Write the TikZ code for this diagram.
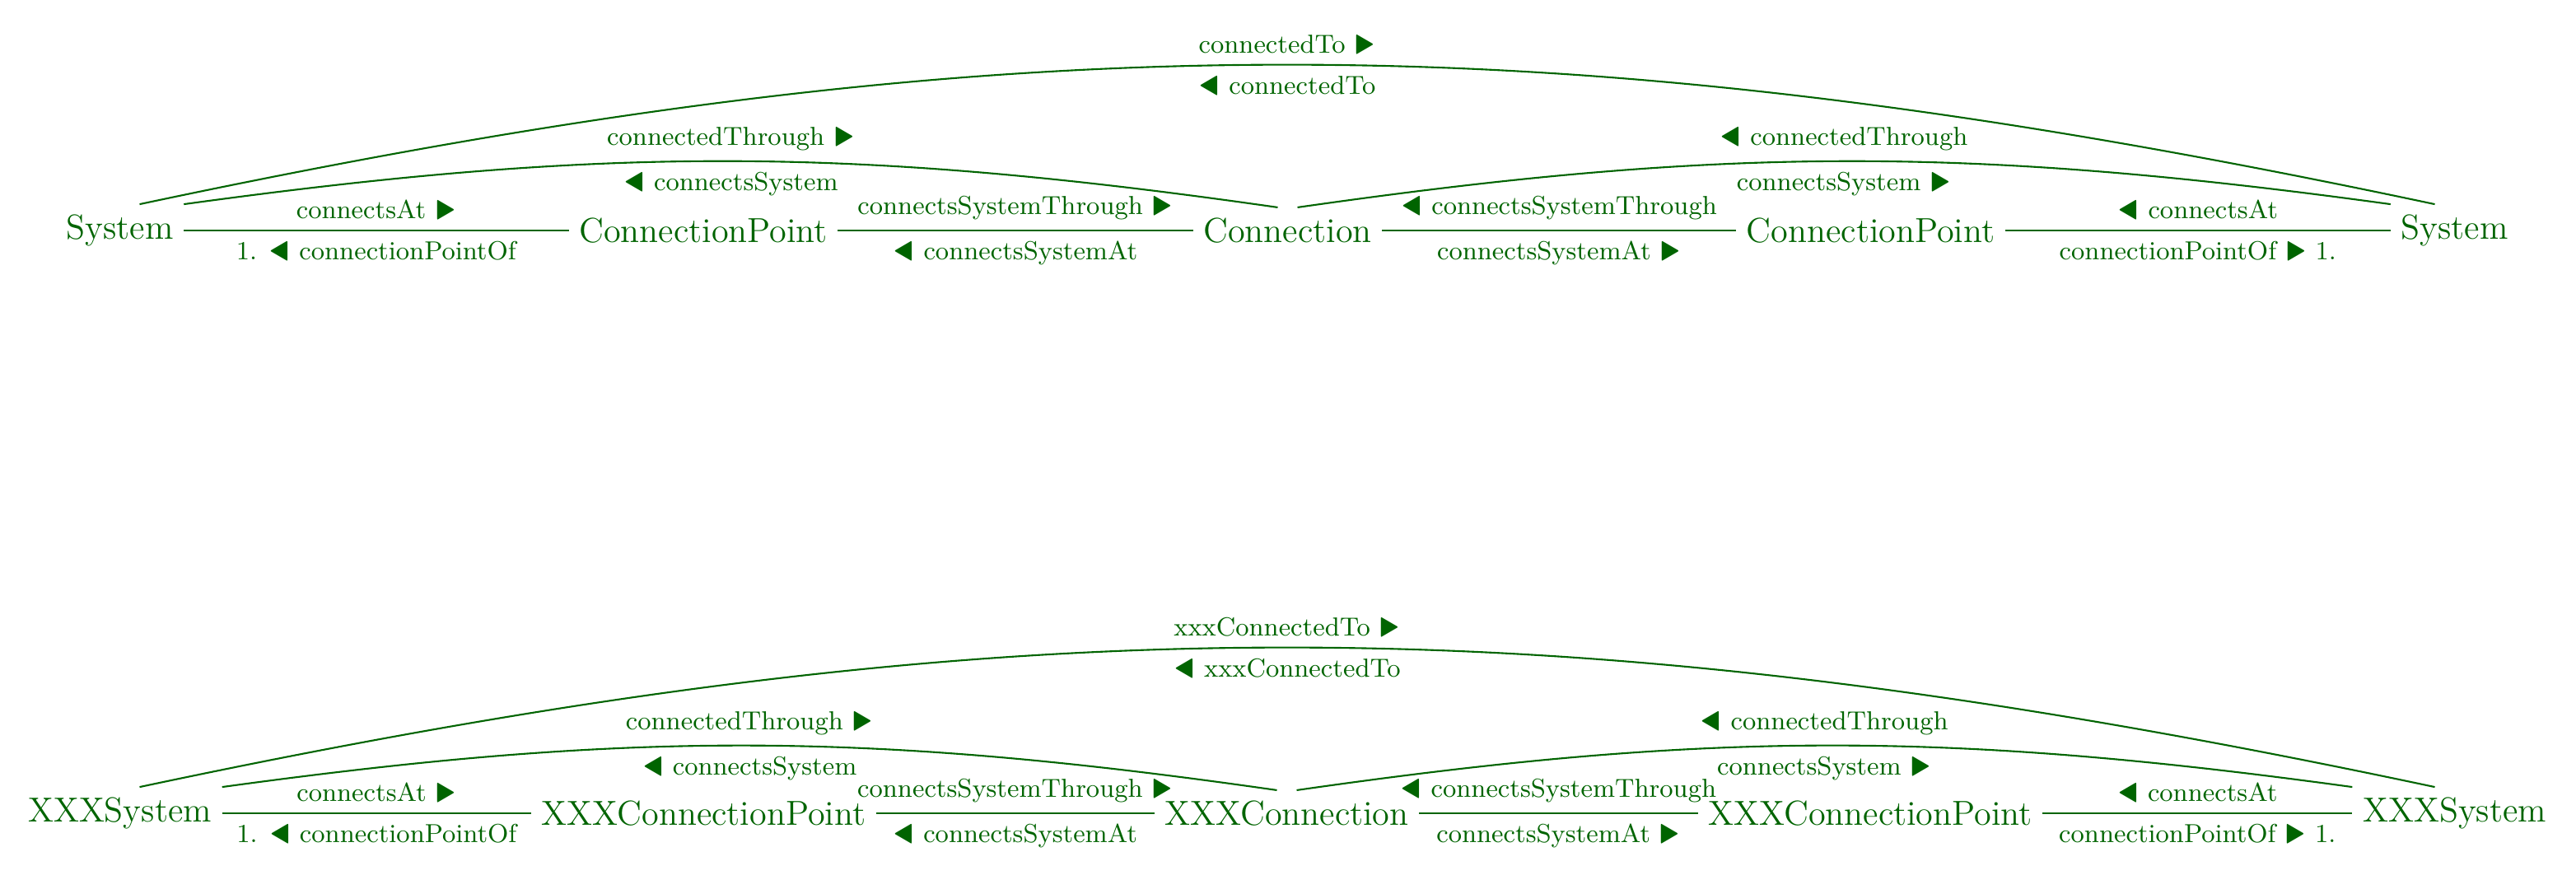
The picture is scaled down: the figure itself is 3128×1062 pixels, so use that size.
\documentclass[tikz,border=0pt]{standalone}
\usepackage{amsmath,amssymb}
\usepackage{xcolor}
\usepackage{tikz}
\usetikzlibrary{positioning}
\definecolor{ontogreen}{RGB}{0,100,0}
\newcommand{\rtri}{\scalebox{1.05}[1.3]{$\blacktriangleright$}}
\newcommand{\ltri}{\scalebox{1.05}[1.3]{$\blacktriangleleft$}}

\begin{document}
\begin{tikzpicture}[x=0.01cm,y=0.01cm,color=ontogreen,line width=0.6pt,
  classnode/.style={font=\large},
  rolelabel/.style={font=\small}]
\useasboundingbox (0,0) rectangle (3128,-1062);

%%%% upper chain

% Text Node
\node[classnode] (sysA) at (145.5,-280) {System};
% Text Node
\node[classnode] (cpA) at (854,-280) {ConnectionPoint};
% Text Node
\node[classnode] (connA) at (1563.5,-280) {Connection};
% Text Node
\node[classnode] (cpB) at (2271.5,-280) {ConnectionPoint};
% Text Node
\node[classnode] (sysB) at (2980.5,-280) {System};

%Straight Lines
\draw (sysA) -- node[rolelabel,above] {connectsAt \rtri} node[rolelabel,below] {1. \ltri\ connectionPointOf} (cpA);
%Straight Lines
\draw (cpA) -- node[rolelabel,above] {connectsSystemThrough \rtri} node[rolelabel,below] {\ltri\ connectsSystemAt} (connA);
%Straight Lines
\draw (connA) -- node[rolelabel,above] {\ltri\ connectsSystemThrough} node[rolelabel,below] {connectsSystemAt \rtri} (cpB);
%Straight Lines
\draw (cpB) -- node[rolelabel,above] {\ltri\ connectsAt} node[rolelabel,below] {connectionPointOf \rtri\ 1.} (sysB);

%Curve Lines
\draw ([xshift=0.24cm]sysA.north) to[bend left=12] node[rolelabel,above] {connectedTo \rtri} node[rolelabel,below] {\ltri\ connectedTo} ([xshift=-0.24cm]sysB.north);
%Curve Lines
\draw (sysA.north east) to[bend left=8] node[rolelabel,above] {connectedThrough \rtri} node[rolelabel,below] {\ltri\ connectsSystem} ([xshift=-0.12cm]connA.north);
%Curve Lines
\draw ([xshift=0.12cm]connA.north) to[bend left=8] node[rolelabel,above] {\ltri\ connectedThrough} node[rolelabel,below] {connectsSystem \rtri} (sysB.north west);

%%%% lower chain

% Text Node
\node[classnode] (xsysA) at (145.5,-988) {XXXSystem};
% Text Node
\node[classnode] (xcpA) at (854.5,-988) {XXXConnectionPoint};
% Text Node
\node[classnode] (xconnA) at (1562.5,-988) {XXXConnection};
% Text Node
\node[classnode] (xcpB) at (2271,-988) {XXXConnectionPoint};
% Text Node
\node[classnode] (xsysB) at (2980.5,-988) {XXXSystem};

%Straight Lines
\draw (xsysA) -- node[rolelabel,above] {connectsAt \rtri} node[rolelabel,below] {1. \ltri\ connectionPointOf} (xcpA);
%Straight Lines
\draw (xcpA) -- node[rolelabel,above] {connectsSystemThrough \rtri} node[rolelabel,below] {\ltri\ connectsSystemAt} (xconnA);
%Straight Lines
\draw (xconnA) -- node[rolelabel,above] {\ltri\ connectsSystemThrough} node[rolelabel,below] {connectsSystemAt \rtri} (xcpB);
%Straight Lines
\draw (xcpB) -- node[rolelabel,above] {\ltri\ connectsAt} node[rolelabel,below] {connectionPointOf \rtri\ 1.} (xsysB);

%Curve Lines
\draw ([xshift=0.24cm]xsysA.north) to[bend left=12] node[rolelabel,above] {xxxConnectedTo \rtri} node[rolelabel,below] {\ltri\ xxxConnectedTo} ([xshift=-0.24cm]xsysB.north);
%Curve Lines
\draw (xsysA.north east) to[bend left=8] node[rolelabel,above] {connectedThrough \rtri} node[rolelabel,below] {\ltri\ connectsSystem} ([xshift=-0.12cm]xconnA.north);
%Curve Lines
\draw ([xshift=0.12cm]xconnA.north) to[bend left=8] node[rolelabel,above] {\ltri\ connectedThrough} node[rolelabel,below] {connectsSystem \rtri} (xsysB.north west);
\end{tikzpicture}
\end{document}
